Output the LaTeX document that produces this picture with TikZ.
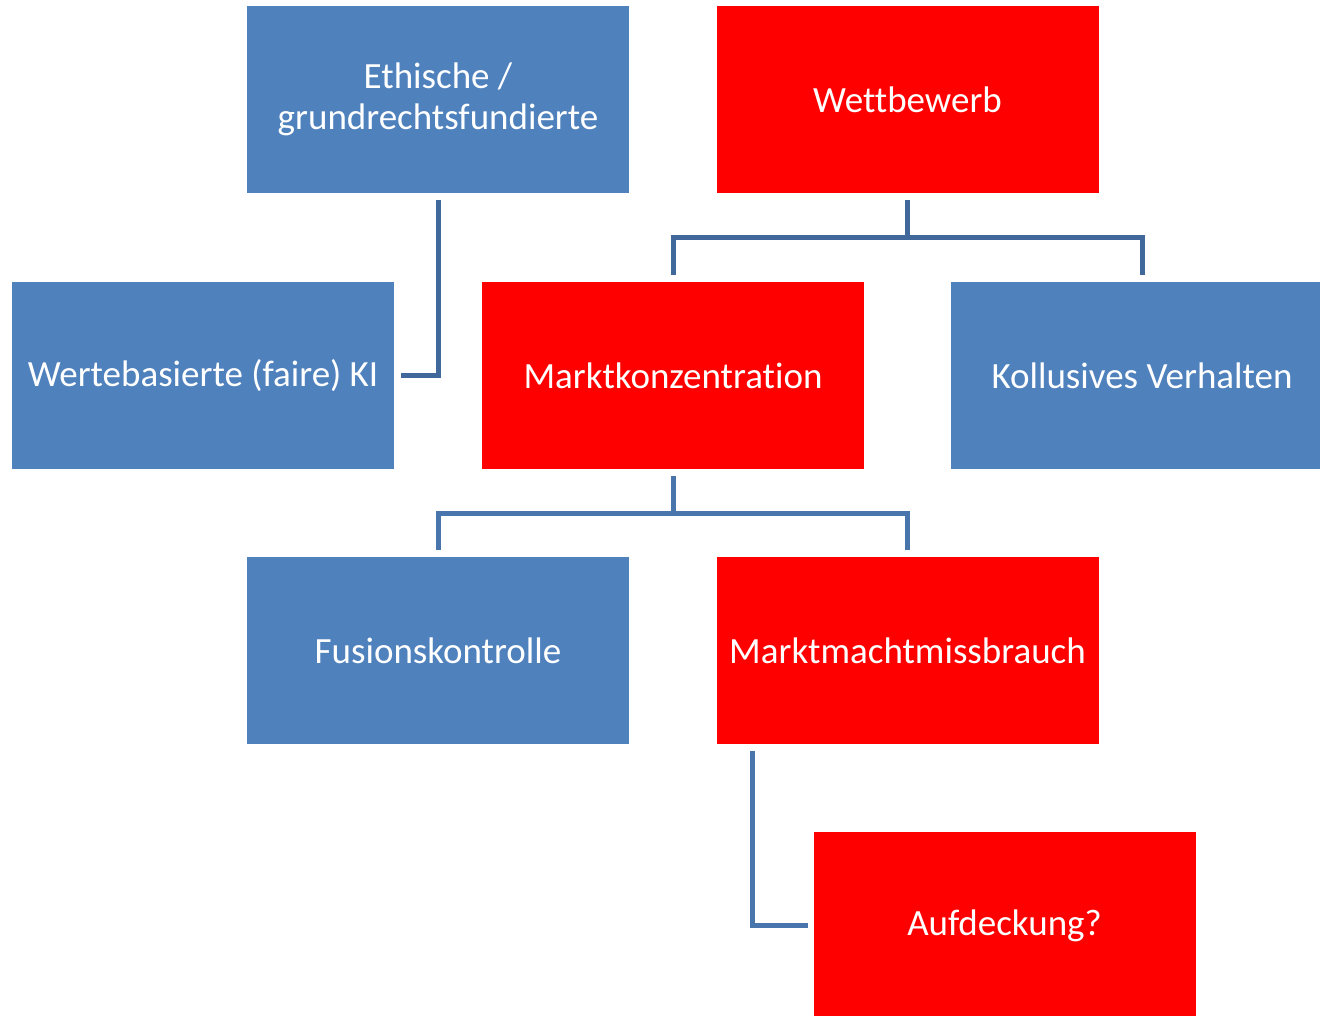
\documentclass[tikz,border=0pt]{standalone}
\usepackage{fontspec}
\setmainfont{Carlito}[Ligatures={NoCommon}]
\tikzset{
  box/.style={rectangle, inner sep=0pt, minimum width=382pt, minimum height=187pt, text=white, align=center,
    font=\fontsize{37}{41}\selectfont},
  bluebox/.style={box, fill=boxblue},
  redbox/.style={box, fill=red},
  conn/.style={line width=5pt, draw=#1},
}
\definecolor{boxblue}{HTML}{4F81BD}
\definecolor{linedark}{HTML}{41689B}
\definecolor{linemid}{HTML}{4775AC}
\begin{document}
\begin{tikzpicture}[x=1pt,y=-1pt]
\useasboundingbox (0,0) rectangle (1320,1015);
\clip (0,0) rectangle (1320,1015);
\node[bluebox] (eth) at (438,99.5) {Ethische /\\grundrechtsfundierte};
\node[redbox] (wet) at (907.5,99.5) {Wettbewerb};
\node[bluebox] (wer) at (203,375.5) {Wertebasierte (faire) KI};
\node[redbox] (mkz) at (673,375.5) {Marktkonzentration};
\node[bluebox] (kol) at (1142,375.5) {Kollusives Verhalten};
\node[bluebox] (fus) at (438,650.5) {Fusionskontrolle};
\node[redbox] (mmm) at (907.5,650.5) {Marktmachtmissbrauch};
\node[redbox] (auf) at (1004.5,925.5) {Aufdeckung?};
% connectors
\coordinate (e1) at ([yshift=-7pt]eth.south);
\coordinate (e2) at ([xshift=7pt]wer.east);
\draw[conn=linedark] (e1) |- (e2);
\coordinate (w1) at ([yshift=-7pt]wet.south);
\coordinate (wm) at (907.5,237);
\coordinate (w2) at ([yshift=7pt]mkz.north);
\coordinate (w3) at ([yshift=7pt]kol.north);
\draw[conn=linedark] (w1) -- (wm);
\draw[conn=linedark] (w2) |- (wm) -| (w3);
\coordinate (m1) at ([yshift=-7pt]mkz.south);
\coordinate (mm) at (673,513);
\coordinate (m2) at ([yshift=7pt]fus.north);
\coordinate (m3) at ([yshift=7pt]mmm.north);
\draw[conn=linemid] (m1) -- (mm);
\draw[conn=linemid] (m2) |- (mm) -| (m3);
\coordinate (a1) at (752,751);
\coordinate (a2) at ([xshift=-5pt]auf.west);
\draw[conn=linemid] (a1) |- (a2);
\end{tikzpicture}
\end{document}
